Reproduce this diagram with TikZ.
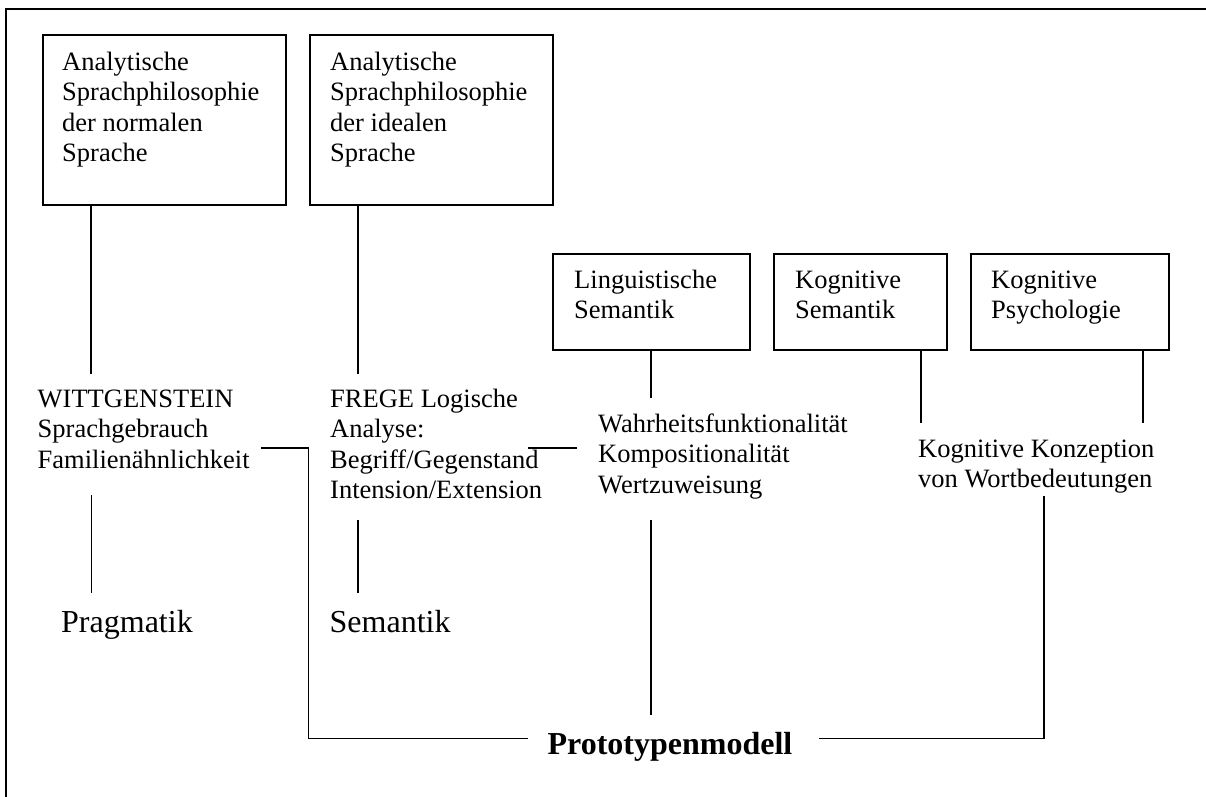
\documentclass[tikz,border=0pt]{standalone}
\usepackage{fontspec}
\setmainfont{Liberation Serif}
\newcommand\mlines[1]{\begin{tabular}[t]{@{}l@{}}#1\end{tabular}}
\begin{document}
\begin{tikzpicture}[x=1pt,y=-1pt,
  box/.style={draw, line width=1.8pt, inner sep=0pt, anchor=north west},
  txt/.style={anchor=base west, inner sep=0pt, font=\fontsize{26.5}{30.6}\selectfont},
  big/.style={anchor=base west, inner sep=0pt, font=\fontsize{32}{38}\selectfont},
  conn/.style={line width=1.5pt}]
\useasboundingbox (0,0) rectangle (1206,796);
% outer frame (top and left edges only)
\draw[line width=1.8pt] (6,800) -- (6,9) -- (1210,9);

% boxes
\node[box, minimum width=243pt, minimum height=170pt] (b1) at (42,34) {};
\node[box, minimum width=243pt, minimum height=170pt] (b2) at (309,34) {};
\node[box, minimum width=197pt, minimum height=96pt] (b3) at (552,253) {};
\node[box, minimum width=173pt, minimum height=96pt] (b4) at (773,253) {};
\node[box, minimum width=198pt, minimum height=96pt] (b5) at (970,253) {};

% box texts
\node[txt] (t1) at (62,70) {\mlines{Analytische\\Sprachphilosophie\\der normalen\\Sprache}};
\node[txt] (t2) at (330,70) {\mlines{Analytische\\Sprachphilosophie\\der idealen\\Sprache}};
\node[txt] (t3) at (574,288) {\mlines{Linguistische\\Semantik}};
\node[txt] (t4) at (795,288) {\mlines{Kognitive\\Semantik}};
\node[txt] (t5) at (991,288) {\mlines{Kognitive\\Psychologie}};

% middle texts
\node[txt] (w) at (37.5,407) {\mlines{WITTGENSTEIN\\Sprachgebrauch\\Familienähnlichkeit}};
\node[txt] (f) at (330,407) {\mlines{FREGE Logische\\Analyse:\\Begriff/Gegenstand\\Intension/Extension}};
\node[txt] (wa) at (598,432) {\mlines{Wahrheitsfunktionalität\\Kompositionalität\\Wertzuweisung}};
\node[txt] (kk) at (918,457) {\mlines{Kognitive Konzeption\\von Wortbedeutungen}};

% lower texts
\node[big] (prag) at (61,632) {Pragmatik};
\node[big] (sem) at (329.5,632) {Semantik};
\node[anchor=base, inner sep=0pt, font=\bfseries\fontsize{32}{38}\selectfont] (proto) at (670,754.5) {Prototypenmodell};

% connector end points
\coordinate (c1) at (91,374);
\coordinate (c2) at (358,374);
\coordinate (c3) at (651,398);
\coordinate (c4) at (921,423);
\coordinate (c5) at (1143,423);
\coordinate (wp1) at (91.5,495);
\coordinate (wp2) at (91.5,593);
\coordinate (fs1) at (358,520);
\coordinate (fs2) at (358,593);
\coordinate (fw1) at (528,448);
\coordinate (fw2) at (577,448);
\coordinate (wr) at (261,448);
\coordinate (lb) at (308.5,738.5);
\coordinate (pl) at (528,738.5);
\coordinate (pr) at (819,738.5);
\coordinate (rb) at (1044,738.5);
\coordinate (kb) at (1044,496);
\coordinate (wb) at (651,520);
\coordinate (wpb) at (651,715);

% connectors
\draw[conn] (b1.south -| c1) -- (c1);
\draw[conn] (b2.south -| c2) -- (c2);
\draw[conn] (b3.south -| c3) -- (c3);
\draw[conn] (b4.south -| c4) -- (c4);
\draw[conn] (b5.south -| c5) -- (c5);
\draw[conn] (wp1) -- (wp2);
\draw[conn] (fs1) -- (fs2);
\draw[conn] (fw1) -- (fw2);
\draw[conn] (wr) -| (lb) -- (pl);
\draw[conn] (pr) -- (rb) -- (kb);
\draw[conn] (wb) -- (wpb);
\end{tikzpicture}
\end{document}
